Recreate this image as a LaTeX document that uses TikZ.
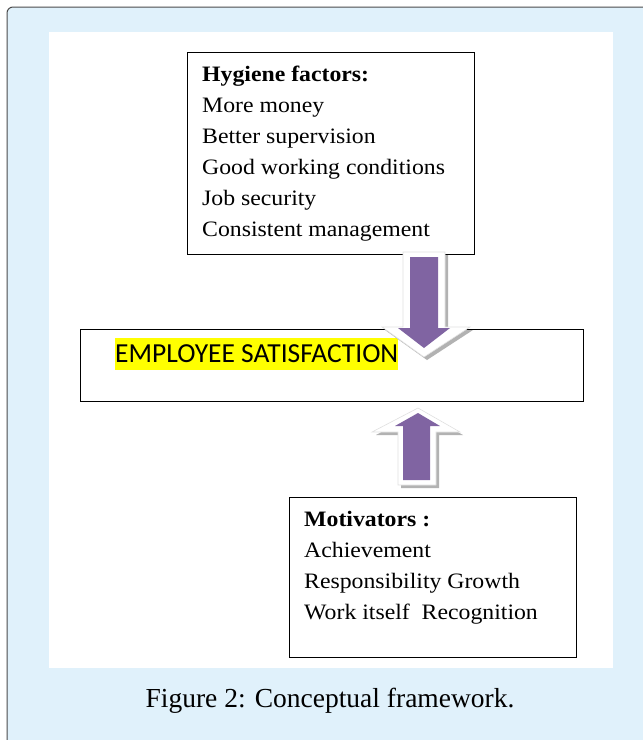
\documentclass[tikz,border=0pt]{standalone}
\usepackage{fontspec}
\setmainfont{Liberation Serif}
\newfontfamily\boxfont[FakeStretch=1.08]{Liberation Serif}
\newfontfamily\calib{Carlito}
\newfontfamily\capfont{Liberation Serif}
\definecolor{panelblue}{HTML}{E0F1FB}
\definecolor{arrowpurple}{HTML}{8064A2}
\definecolor{hl}{HTML}{FFFF00}
\tikzset{
  textbox/.style={draw=black, line width=0.9pt, fill=white},
  arrshadow/.style={fill=black!30, draw=none},
  arrouter/.style={fill=white, draw=black!12, line width=0.6pt},
  arrinner/.style={fill=arrowpurple, draw=none},
  boxtext/.style={anchor=base west, inner sep=0pt, align=left, font=\boxfont\fontsize{22}{31}\selectfont}
}
\begin{document}
\begin{tikzpicture}[x=1pt,y=-1pt]
\useasboundingbox (0,0) rectangle (643,740);
% outer frame
\fill[white] (0,0) rectangle (643,740);
\draw[fill=panelblue, draw=black!70, line width=1pt, rounded corners=6pt] (7,7) -- (660,7) -- (660,760) -- (7,760) -- cycle;
\fill[white] (49,32) rectangle (613,668);
% hygiene box
\draw[textbox] (187,52) rectangle (474,254);
\node[boxtext] (hyg) at (202,236) {\textbf{Hygiene factors:}\\More money\\Better supervision\\Good working conditions\\Job security\\Consistent management};
% employee box
\draw[textbox] (80,329) rectangle (583,401);
\node[anchor=west, fill=hl, inner xsep=0pt, inner ysep=0pt, minimum height=32pt, text depth=0pt, font=\calib\fontsize{27.5}{30}\selectfont] (emp) at (115,354) {EMPLOYEE SATISFACTION};
% down arrow
\fill[arrshadow] (406,255) -- (448,255) -- (448,330) -- (473,330) -- (427,360) -- (385,330) -- (406,330) -- cycle;
\draw[arrouter] (403,252) -- (445,252) -- (445,327) -- (470,327) -- (424,357) -- (382,327) -- (403,327) -- cycle;
\fill[arrinner] (410,257) -- (438,257) -- (438,328) -- (450,328) -- (424,348) -- (398,328) -- (410,328) -- cycle;
% up arrow
\fill[arrshadow] (401,488) -- (439,488) -- (439,435) -- (463,435) -- (421,411) -- (376,435) -- (401,435) -- cycle;
\draw[arrouter] (398,485) -- (436,485) -- (436,432) -- (460,432) -- (418,408) -- (372,432) -- (398,432) -- cycle;
\fill[arrinner] (403,480) -- (430,480) -- (430,426) -- (440,426) -- (418,413) -- (395,426) -- (403,426) -- cycle;
% motivators box
\draw[textbox] (289,497) rectangle (576,657);
\node[boxtext] (mot) at (304,619) {\textbf{Motivators :}\\Achievement\\Responsibility Growth\\Work itself\ \ Recognition};
% caption
\node[anchor=base, inner sep=0pt, font=\capfont\fontsize{27.5}{30}\selectfont] (cap) at (330,707) {Figure 2: Conceptual framework.};
\end{tikzpicture}
\end{document}
